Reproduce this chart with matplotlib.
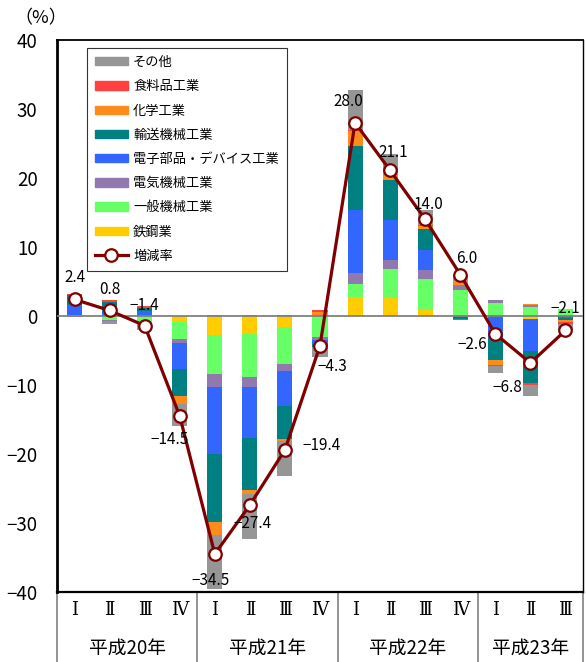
import matplotlib
matplotlib.use("Agg")
import matplotlib.pyplot as plt
import matplotlib.transforms as mtransforms
from matplotlib.patches import Patch
from matplotlib.lines import Line2D
import numpy as np

plt.rcParams['font.family'] = ['Noto Sans CJK JP', 'DejaVu Sans']

quarters = ["Ⅰ", "Ⅱ", "Ⅲ", "Ⅳ", "Ⅰ", "Ⅱ", "Ⅲ", "Ⅳ", "Ⅰ", "Ⅱ", "Ⅲ", "Ⅳ", "Ⅰ", "Ⅱ", "Ⅲ"]
years = ["平成20年", "平成21年", "平成22年", "平成23年"]
year_len = [4, 4, 4, 3]

# 寄与度（％ポイント）
tekko = [0.1, 0, 0, -0.9, -2.8, -2.6, -1.6, 0, 2.7, 2.6, 0.9, 0, 0, -0.4, 0]
ippan = [0, -0.6, -1.1, -2.5, -5.65, -6.3, -5.3, -3.1, 1.9, 4.25, 4.5, 3.8, 1.9, 1.35, 0.95]
denki = [0, -0.15, 0, -0.5, -1.9, -1.45, -1.1, -0.4, 1.65, 1.3, 1.3, 0.7, 0.4, 0.25, 0]
denshi = [1.5, 0.7, 0.7, -3.8, -9.7, -7.3, -5.0, -0.6, 9.1, 5.8, 2.9, -0.1, -3.2, -4.6, -0.3]
yuso = [1.4, 1.4, 0.5, -3.9, -9.8, -7.5, -4.8, -0.4, 9.3, 5.8, 3.05, -0.3, -3.2, -4.7, -0.3]
kagaku = [-0.15, 0, -0.2, -1.1, -1.9, -0.6, -0.25, 0.6, 2.1, 0.6, 0.35, 0.6, -0.75, 0.2, -0.3]
shokuryo = [0.25, 0.15, 0.2, 0, 0.2, 0.2, 0.1, 0.2, 0.25, 0, 0.25, -0.25, -0.1, -0.25, -0.2]
sonota = [0, -0.35, -0.7, -3.3, -7.8, -6.5, -5.1, -1.5, 5.8, 3.2, 2.1, 0.85, -0.95, -1.7, -0.9]

zogen = [2.4, 0.8, -1.4, -14.5, -34.5, -27.4, -19.4, -4.3, 28.0, 21.1, 14.0, 6.0, -2.6, -6.8, -2.1]

series = [
    ("鉄鋼業", tekko, "#FFCC00"),
    ("一般機械工業", ippan, "#66FF66"),
    ("電気機械工業", denki, "#9179B0"),
    ("電子部品・デバイス工業", denshi, "#3366FF"),
    ("輸送機械工業", yuso, "#008080"),
    ("化学工業", kagaku, "#FF8C1A"),
    ("食料品工業", shokuryo, "#FF4040"),
    ("その他", sonota, "#969696"),
]

# ラベル位置のずれ（ピクセル）
lab_dx = [0, 0, 0, -10, -4, 3, 37, 12, -7, 3, 3, 6, -23, -23, 0]
lab_dy = [22, 21, 20, -23, -26, -18, 4, -21, 21, 18, 15, 16, -11, -25, 22]

fig = plt.figure(figsize=(5.86, 6.62), dpi=100)
ax = fig.add_axes([57/586, 1-592/662, 526/586, 552/662])

x = np.arange(len(zogen))
pos = np.zeros(len(x))
neg = np.zeros(len(x))
for name, vals, col in series:
    v = np.array(vals, dtype=float)
    bottom = np.where(v >= 0, pos, neg)
    ax.bar(x, v, 0.43, bottom=bottom, color=col, linewidth=0, zorder=2)
    pos = pos + np.where(v > 0, v, 0)
    neg = neg + np.where(v < 0, v, 0)

ax.axhline(0, color="#808080", linewidth=1.3, zorder=3)
ax.plot(x, zogen, color="#800000", linewidth=2.3, marker="o", markersize=9,
        markerfacecolor="white", markeredgecolor="#800000", markeredgewidth=1.6, zorder=4)

for i, v in enumerate(zogen):
    ax.annotate(f"{v:.1f}".replace("-", "\u2212"), (x[i], v), xytext=(lab_dx[i], lab_dy[i]),
                textcoords="offset pixels", ha="center", va="center", fontsize=11, zorder=5)

ax.set_xlim(-0.5, len(x) - 0.5)
ax.set_ylim(-40, 40)
ax.set_yticks(range(-40, 41, 10))
ax.tick_params(axis="y", length=0, labelsize=13.5, pad=14)
ax.set_xticks([])
ax.spines["left"].set_linewidth(2)
ax.spines["bottom"].set_linewidth(1.6)
ax.spines["top"].set_linewidth(1.3)
ax.spines["right"].set_linewidth(1.0)

fig.text(14/586, 1-18/662, "（%）", fontsize=13, va="center", ha="left")

# 下の区分表
trans = mtransforms.blended_transform_factory(ax.transData, ax.transAxes)
for i, q in enumerate(quarters):
    ax.text(x[i], -0.033, q, transform=trans, ha="center", va="center",
            fontsize=13, family=["DejaVu Serif"], clip_on=False)
start = 0
edges = [-0.5]
for y, n in zip(years, year_len):
    ax.text(start + (n - 1) / 2, -0.101, y, transform=trans, ha="center", va="center",
            fontsize=13.5, clip_on=False)
    start += n
    edges.append(start - 0.5)
for e in edges:
    ax.plot([e, e], [0, -0.13], transform=trans, color="#808080", linewidth=1.2, clip_on=False)

handles = [Patch(color=col, label=name) for name, vals, col in series][::-1]
handles.append(Line2D([], [], color="#800000", linewidth=2.3, marker="o", markersize=9,
                      markerfacecolor="white", markeredgecolor="#800000", markeredgewidth=1.6,
                      label="増減率"))
leg = ax.legend(handles=handles, loc="upper left", bbox_to_anchor=(0.057, 0.9855),
                fontsize=9.5, frameon=True, fancybox=False, edgecolor="black",
                handlelength=2.5, handleheight=0.6, labelspacing=0.85, borderpad=0.6,
                handletextpad=0.4, borderaxespad=0)
leg.get_frame().set_linewidth(0.8)

fig.savefig("out.png", dpi=100)
